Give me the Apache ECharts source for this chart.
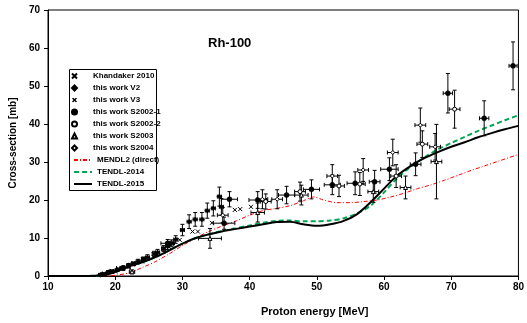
<!DOCTYPE html>
<html><head><meta charset="utf-8">
<script src="https://cdn.jsdelivr.net/npm/echarts@6/dist/echarts.min.js"></script>
<style>html,body{margin:0;padding:0;background:#fff}#c{width:527px;height:323px}</style>
</head><body><div id="c"></div>
<script>
// ---- data ----
const xTicks = [10, 20, 30, 40, 50, 60, 70, 80];
const yTicks = [0, 10, 20, 30, 40, 50, 60, 70];

// Khandaker 2010: [E, sigma]
const khandaker = [[18.5,0.4],[20.0,1.2],[22.0,2.4],[24.0,3.8],[26.0,5.5],[28.0,7.6],[29.6,9.5],
  [31.5,11.7],[32.3,11.7],[34.4,14.0],[37.8,17.4],[38.6,17.6],[40.2,18.2]];
// this work series: [E, dE, sigma, dSigma]
const workV2 = [[17.8,0.3,0.3,0.3],[19.0,0.3,1.0,0.4],[20.3,0.3,1.6,0.4],[22.0,0.3,2.8,0.5],[23.4,0.3,3.8,0.6],
  [24.8,0.3,4.9,0.7],[26.3,0.3,6.2,0.8],[27.8,0.3,7.9,0.9],[29.0,0.3,9.6,1.0],[30.0,0.3,12.1,1.5],
  [31.0,0.3,14.3,1.8],[31.9,0.3,14.9,1.8],[32.9,0.3,14.9,1.8],[33.7,0.3,17.2,2.0],[34.6,0.3,17.8,2.0],
  [35.5,0.3,20.9,2.5],[35.8,0.3,18.2,2.2]];
const workV3 = [[18.3,0.3,0.5,0.3],[19.5,0.3,1.2,0.4],[21.0,0.3,2.0,0.4],[22.7,0.3,3.2,0.5],[24.2,0.3,4.4,0.6],
  [25.8,0.3,5.8,0.7],[27.2,0.3,7.2,0.8],[28.4,0.3,8.6,0.9]];
const workS2002a = [[21.2,1.0,2.1,0.6],[27.8,1.0,8.6,1.0],[36.2,1.6,13.9,1.6],[37.0,1.2,20.2,2.0],[41.2,1.3,20.0,2.2],
  [45.5,1.2,21.3,2.3],[49.2,1.2,22.8,2.5],[52.3,1.2,24.0,2.6],[55.7,1.2,24.4,3.0],[58.6,0.8,24.8,3.0],
  [60.8,1.3,28.1,3.0],[64.7,0.8,29.4,3.0],[69.5,0.7,48.1,5.2],[74.9,0.7,41.5,4.6],[79.2,0.6,55.3,6.3]];
const workS2002b = [[42.4,0.8,19.6,2.0],[47.5,0.8,22.2,2.5],[53.3,0.8,23.7,2.8],[56.4,0.8,24.2,3.0],
  [61.8,0.8,26.3,3.0],[65.7,0.8,34.7,3.5],[70.5,0.8,43.9,5.0]];
const workS2003 = [[22.5,0.4,1.1,0.5],[34.1,1.7,9.9,2.6],[41.2,1.0,16.7,2.5],[47.7,1.0,21.3,2.6],
  [58.4,0.8,22.2,2.8],[63.2,0.8,23.3,3.0],[67.8,0.8,30.1,9.8]];
const workS2004 = [[36.0,0.8,16.0,2.0],[41.9,0.8,20.2,2.5],[44.1,0.8,20.2,2.5],[52.3,0.8,26.3,3.0],
  [56.9,0.8,27.9,3.0],[61.3,0.8,32.5,3.5],[65.4,0.8,39.7,4.5],[67.6,0.8,34.0,3.5]];

// model curves
const mendlE = [10,18,20,22,24,26,28,30,32,34,36,38,40,42,44,46,48,49.5,51,53,55,57,59,61,63,65,67,69,71,73,75,77,80];
const mendlV = [0,0,0.2,0.8,2.2,3.8,5.8,8.0,10.0,11.8,13.2,14.5,16.0,17.2,17.8,18.5,19.8,20.8,20.0,19.3,19.3,19.6,20.0,20.8,21.8,23.0,24.0,25.2,26.5,27.8,29.0,30.2,32.0];
const tendl14E = [10,15,17,18,19,20,21,22,24,26,28,30,32,34,36,38,40,42,44,46,48,50,52,54,56,58,60,62,64,66,68,70,72,74,76,78,80];
const tendl14V = [0,0,0.05,0.2,0.5,1.1,1.9,2.6,3.6,5.0,6.7,8.5,10.0,11.0,11.9,12.6,13.3,14.0,14.5,14.6,14.4,14.4,14.6,15.2,16.5,18.5,22.0,25.8,28.8,31.2,33.3,35.0,36.6,38.2,39.6,41.0,42.3];
const tendl15E = [10,15,17,18,19,20,21,22,24,26,28,30,32,34,36,38,40,42,44,46,48,50,52,54,56,58,60,62,64,66,68,70,72,74,76,78,80];
const tendl15V = [0,0,0.05,0.2,0.5,1.1,1.9,2.6,3.6,5.0,6.7,8.5,10.0,11.0,11.8,12.4,13.0,13.6,14.2,14.3,13.6,13.2,13.6,14.5,16.3,19.4,23.0,26.5,29.0,31.0,32.6,34.0,35.2,36.5,37.6,38.6,39.5];

// ---- chart ----
const FONT = 'Liberation Sans, Arial, sans-serif';
const pair = (xs, ys) => xs.map((x, i) => [x, ys[i]]);
const xPath = 'path://M0,0L10,10M10,0L0,10';
const boldX = 'path://M0,2L2,0L5,3L8,0L10,2L7,5L10,8L8,10L5,7L2,10L0,8L3,5Z';
const boldXImg = 'image://data:image/svg+xml;charset=utf-8,' + encodeURIComponent(
  '<svg xmlns="http://www.w3.org/2000/svg" width="10" height="10" viewBox="0 0 10 10">' +
  '<path d="M0,2L2,0L5,3L8,0L10,2L7,5L10,8L8,10L5,7L2,10L0,8L3,5Z" fill="black"/></svg>');

function errRender(params, api) {
  const x = api.value(0), dx = api.value(1), y = api.value(2), dy = api.value(3);
  const c = api.coord([x, y]);
  const st = {stroke: '#000', lineWidth: 1};
  const ch = [];
  const cap = 2;
  if (dy > 0) {
    const t = api.coord([x, y + dy]), b = api.coord([x, y - dy]);
    ch.push({type: 'line', shape: {x1: c[0], y1: t[1], x2: c[0], y2: b[1]}, style: st});
    ch.push({type: 'line', shape: {x1: c[0] - cap, y1: t[1], x2: c[0] + cap, y2: t[1]}, style: st});
    ch.push({type: 'line', shape: {x1: c[0] - cap, y1: b[1], x2: c[0] + cap, y2: b[1]}, style: st});
  }
  if (dx > 0) {
    const l = api.coord([x - dx, y]), r = api.coord([x + dx, y]);
    ch.push({type: 'line', shape: {x1: l[0], y1: c[1], x2: r[0], y2: c[1]}, style: st});
    ch.push({type: 'line', shape: {x1: l[0], y1: c[1] - cap, x2: l[0], y2: c[1] + cap}, style: st});
    ch.push({type: 'line', shape: {x1: r[0], y1: c[1] - cap, x2: r[0], y2: c[1] + cap}, style: st});
  }
  return {type: 'group', children: ch};
}

const sets = [
  {name: 'this work V2', data: workV2, symbol: 'diamond', size: 5, fill: '#000'},
  {name: 'this work V3', data: workV3, symbol: boldX, size: 5, fill: '#000'},
  {name: 'this work S2002-1', data: workS2002a, symbol: 'circle', size: 5, fill: '#000'},
  {name: 'this work S2002-2', data: workS2002b, symbol: 'circle', size: 4, fill: '#fff'},
  {name: 'this work S2003', data: workS2003, symbol: 'triangle', size: 4, fill: '#fff'},
  {name: 'this work S2004', data: workS2004, symbol: 'diamond', size: 4, fill: '#fff'}
];

const series = [];
series.push({name: 'MENDL2 (direct)', type: 'line', data: pair(mendlE, mendlV), smooth: 0.3, symbol: 'none',
  lineStyle: {color: '#ff0000', width: 1, type: [4, 2, 1, 2]}, itemStyle: {color: '#ff0000'}, z: 2});
series.push({name: 'TENDL-2014', type: 'line', data: pair(tendl14E, tendl14V), smooth: 0.3, symbol: 'none',
  lineStyle: {color: '#00a651', width: 2, type: [5, 3]}, itemStyle: {color: '#00a651'}, z: 3});
series.push({name: 'TENDL-2015', type: 'line', data: pair(tendl15E, tendl15V), smooth: 0.3, symbol: 'none',
  lineStyle: {color: '#000', width: 2}, itemStyle: {color: '#000'}, z: 4});
sets.forEach(s => {
  series.push({name: s.name + ' err', type: 'custom', renderItem: errRender, data: s.data,
    encode: {x: 0, y: 2}, clip: true, z: 5, silent: true});
});
series.push({name: 'Khandaker 2010', type: 'scatter', data: khandaker, symbol: xPath, symbolSize: 4,
  itemStyle: {color: '#000', borderColor: '#000', borderWidth: 1, opacity: 1}, z: 6});
sets.forEach(s => {
  series.push({name: s.name, type: 'scatter', data: s.data.map(d => [d[0], d[2]]), symbol: s.symbol,
    symbolSize: s.size, itemStyle: {color: s.fill, borderColor: '#000', borderWidth: s.fill === '#000' ? 0.5 : 1, opacity: 1}, z: 7});
});

const legendText = {fontFamily: FONT, fontWeight: 'bold', fontSize: 8, color: '#000', lineHeight: 10};
const chart = echarts.init(document.getElementById('c'), null, {renderer: 'canvas'});
chart.setOption({
  animation: false,
  backgroundColor: '#fff',
  title: {text: 'Rh-100', left: 208, top: 37, padding: 0,
    textStyle: {fontFamily: FONT, fontWeight: 'bold', fontSize: 13, color: '#000'}},
  grid: {left: 41, right: 5, top: 10, bottom: 47, show: true, borderColor: '#000', borderWidth: 1},
  graphic: [{type: 'rect', left: 69, top: 69, shape: {width: 87, height: 121}, z: 90,
    style: {fill: '#fff', stroke: '#000', lineWidth: 1}}],
  legend: [
    {data: ['Khandaker 2010', 'this work V2', {name: 'this work V3', icon: boldXImg},
        'this work S2002-1', 'this work S2002-2', 'this work S2003', 'this work S2004'],
      orient: 'vertical', left: 71, top: 71, padding: 0, itemWidth: 5, itemHeight: 5, itemGap: 2, z: 100,
      selectedMode: false,
      textStyle: Object.assign({padding: [0, 0, 0, 11]}, legendText)},
    {data: ['MENDL2 (direct)', 'TENDL-2014', 'TENDL-2015'],
      orient: 'vertical', left: 73, top: 155, padding: 0, itemWidth: 18, itemHeight: 10, itemGap: 2, z: 100,
      selectedMode: false,
      itemStyle: {color: 'transparent', borderColor: 'transparent', borderWidth: 0, opacity: 0},
      textStyle: legendText}
  ],
  xAxis: {type: 'value', min: xTicks[0], max: xTicks[xTicks.length - 1], interval: 10,
    name: 'Proton energy [MeV]', nameLocation: 'middle', nameGap: 30,
    nameTextStyle: {fontFamily: FONT, fontWeight: 'bold', fontSize: 11, color: '#000', padding: [0, 0, 0, 63]},
    axisLine: {onZero: false, lineStyle: {color: '#000', width: 1}},
    axisTick: {show: true, inside: false, length: 4, lineStyle: {color: '#000'}},
    axisLabel: {margin: 6, fontFamily: FONT, fontWeight: 'bold', fontSize: 10, color: '#000'},
    splitLine: {show: false}},
  yAxis: {type: 'value', min: yTicks[0], max: yTicks[yTicks.length - 1], interval: 10,
    name: 'Cross-section [mb]', nameLocation: 'middle', nameGap: 21,
    nameTextStyle: {fontFamily: FONT, fontWeight: 'bold', fontSize: 10, color: '#000'},
    axisLine: {show: true, lineStyle: {color: '#000', width: 1}},
    axisTick: {show: true, inside: false, length: 4, lineStyle: {color: '#000'}},
    axisLabel: {margin: 8, fontFamily: FONT, fontWeight: 'bold', fontSize: 10, color: '#000'},
    splitLine: {show: false}},
  series: series
});
</script></body></html>
